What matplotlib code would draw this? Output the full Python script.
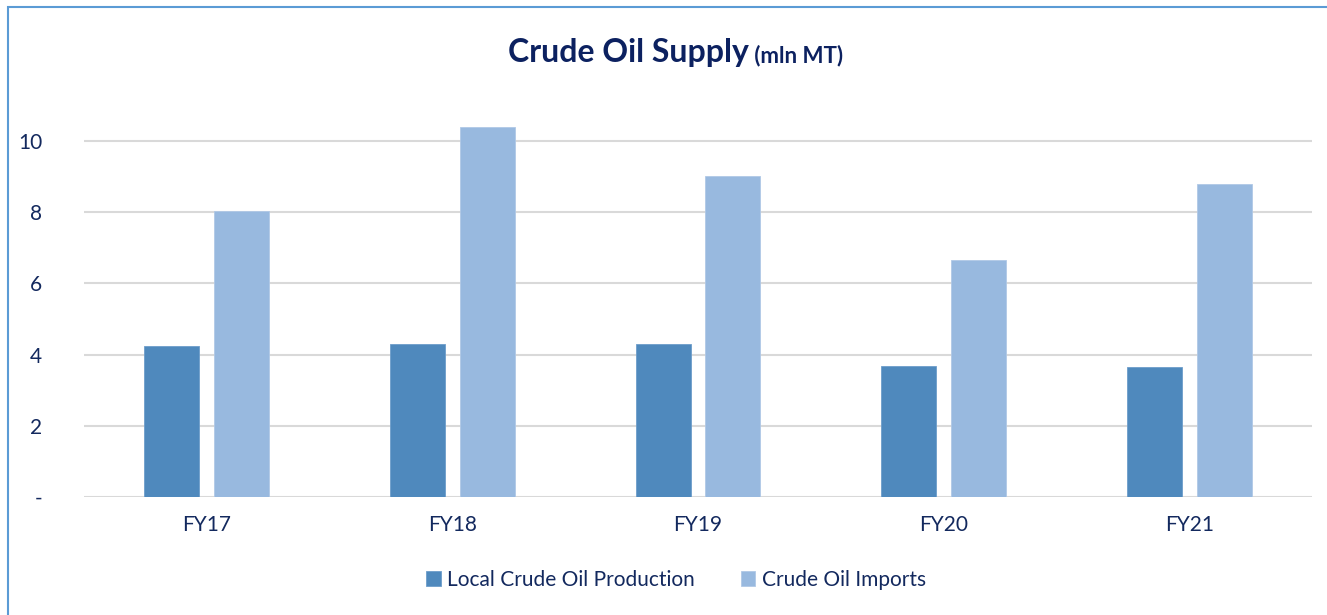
import matplotlib
matplotlib.use("Agg")
import matplotlib.pyplot as plt
import numpy as np
from matplotlib.patches import Rectangle

categories = ["FY17", "FY18", "FY19", "FY20", "FY21"]
local_production = [4.25, 4.29, 4.29, 3.68, 3.65]
crude_imports = [8.04, 10.40, 9.02, 6.66, 8.78]
yticks = [0, 2, 4, 6, 8, 10]
ytick_labels = ["-", "2", "4", "6", "8", "10"]
series_names = ["Local Crude Oil Production", "Crude Oil Imports"]

navy = "#13295e"
title_navy = "#0c2160"
c_local = "#4f89bd"
c_imp = "#98b9df"

plt.rcParams['font.family'] = ['Lato', 'DejaVu Sans']

fig = plt.figure(figsize=(13.27, 6.15), dpi=100)
fig.patches.append(Rectangle((8/1327, -0.1), 1.2, 1 - 7/615 + 0.1, transform=fig.transFigure,
                             fill=False, edgecolor="#5b9bd5", lw=1.5))

ax = fig.add_axes([84/1327, 1 - 497/615, (1312-84)/1327, (497-105.4)/615])
x = np.arange(len(categories))
w = 0.224
off = 0.142
ax.bar(x - off, local_production, w, color=c_local, edgecolor="#6d9dcb", lw=0.6, label=series_names[0], zorder=3)
ax.bar(x + off, crude_imports, w, color=c_imp, edgecolor="#b0c9e6", lw=0.6, label=series_names[1], zorder=3)

ax.set_xlim(-0.5, len(categories) - 0.5)
ax.set_ylim(0, 11)
ax.set_yticks(yticks)
ax.set_yticklabels(ytick_labels)
ax.set_xticks(x)
ax.set_xticklabels(categories)
ax.tick_params(axis='both', length=0, labelsize=15, labelcolor=navy)
ax.tick_params(axis='y', pad=30)
ax.tick_params(axis='x', pad=13)
for s in ax.spines.values():
    s.set_visible(False)
ax.yaxis.grid(True, color="#d9d9d9", lw=1.5, zorder=0)
ax.set_axisbelow(True)

leg = fig.legend(loc='center', bbox_to_anchor=(676/1327, 1 - 580/615), ncol=2, frameon=False,
                 fontsize=15, handlelength=0.7, handleheight=0.7, handletextpad=0.3,
                 columnspacing=2.2)
for t in leg.get_texts():
    t.set_color(navy)

# Title with two parts
fig.canvas.draw()
r = fig.canvas.get_renderer()
t1 = fig.text(0, 1 - 62/615, "Crude Oil Supply", fontsize=23, fontweight='bold', color=title_navy, va='baseline')
t2 = fig.text(0, 1 - 62/615, " (mln MT)", fontsize=16, fontweight='bold', color=title_navy, va='baseline')
w1 = t1.get_window_extent(r).width
w2 = t2.get_window_extent(r).width
start = 676 - (w1 + w2) / 2
t1.set_x(start / 1327)
t2.set_x((start + w1) / 1327)

fig.savefig("out.png", dpi=100)
